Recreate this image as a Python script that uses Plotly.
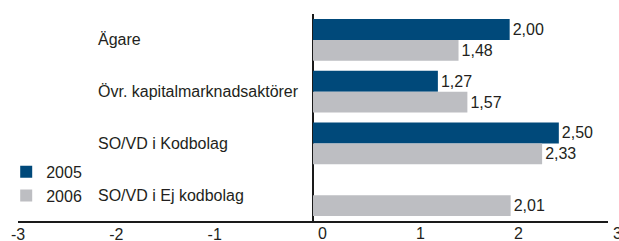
import plotly.graph_objects as go

categories = ["Ägare", "Övr. kapitalmarknadsaktörer", "SO/VD i Kodbolag", "SO/VD i Ej kodbolag"]
values_2005 = [2.00, 1.27, 2.50, None]
values_2006 = [1.48, 1.57, 2.33, 2.01]
series_names = ["2005", "2006"]
x_ticks_neg = [-3, -2, -1]
x_ticks_pos = [0, 1, 2, 3]

FONT = "Liberation Sans, Arial, sans-serif"
FS = 16
TXT = "#231f20"
BLUE = "#00497a"
GREY = "#bdbec2"

fig = go.Figure()
for name, vals, col in [(series_names[0], values_2005, BLUE), (series_names[1], values_2006, GREY)]:
    fig.add_trace(go.Bar(
        y=categories, x=vals, name=name, orientation="h",
        marker=dict(color=col, line=dict(width=0)),
        texttemplate="%{x:.2f}", textposition="outside", cliponaxis=False,
        textfont=dict(family=FONT, size=FS, color=TXT),
    ))

for c in categories:
    fig.add_annotation(x=0.132, xref="paper", y=c, yref="y", text=c, showarrow=False,
                       xanchor="left", yanchor="middle",
                       font=dict(family=FONT, size=FS, color=TXT))

for v in x_ticks_pos:
    fig.add_annotation(x=v, xref="x", y=0, yref="paper", yshift=-12.5, xshift=9, text=str(v),
                       showarrow=False, xanchor="center", yanchor="middle",
                       font=dict(family=FONT, size=FS, color=TXT))

fig.update_layout(
    width=619, height=241,
    margin=dict(l=18, r=11, t=14, b=20, autoexpand=False),
    paper_bgcolor="white", plot_bgcolor="white",
    separators=", ",
    barmode="group", bargap=0.19, bargroupgap=0,
    font=dict(family=FONT, size=FS, color=TXT),
    showlegend=True,
    legend=dict(x=-0.02, y=0.32, xanchor="left", yanchor="top",
                bgcolor="rgba(0,0,0,0)", font=dict(family=FONT, size=FS, color=TXT),
                tracegroupgap=0),
    xaxis=dict(range=[-3, 3], tickvals=x_ticks_neg, ticktext=[str(v) for v in x_ticks_neg],
               showgrid=False, zeroline=True, zerolinecolor="#1a1a1a", zerolinewidth=2,
               showline=True, linecolor="#1a1a1a", linewidth=2, ticks="", automargin=False,
               ticklabelstandoff=-2,
               tickfont=dict(family=FONT, size=FS, color=TXT), fixedrange=True),
    yaxis=dict(autorange="reversed", showticklabels=False, showgrid=False, zeroline=False,
               showline=False, ticks="", automargin=False, fixedrange=True),
)
fig.write_html("out.html", config={"displayModeBar": False},
               post_script="document.body.style.margin='0';document.body.style.overflow='hidden';")
